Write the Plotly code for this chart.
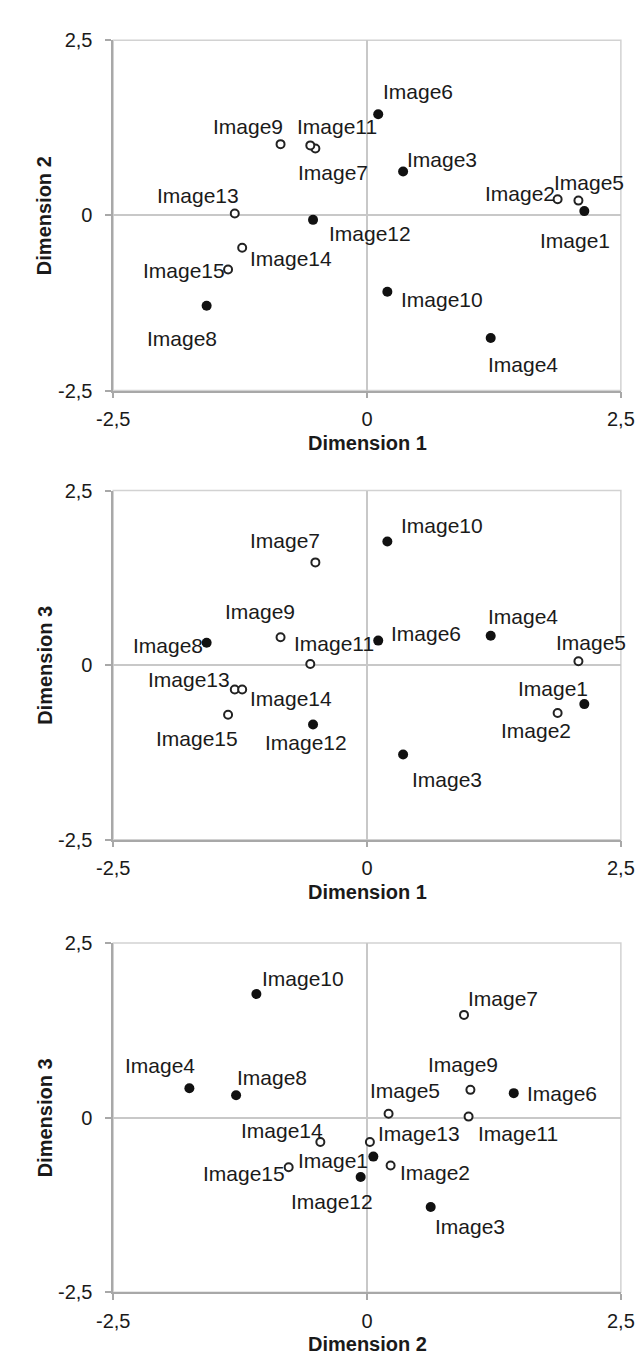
import plotly.graph_objects as go

# ---------------- data ----------------
names = ["Image1", "Image2", "Image3", "Image4", "Image5", "Image6", "Image7", "Image8",
         "Image9", "Image10", "Image11", "Image12", "Image13", "Image14", "Image15"]
dim1 = [2.14, 1.877, 0.355, 1.218, 2.082, 0.11, -0.509, -1.58, -0.852, 0.2, -0.559, -0.532, -1.303, -1.23, -1.369]
dim2 = [0.062, 0.232, 0.627, -1.75, 0.212, 1.445, 0.955, -1.29, 1.018, -1.09, 1.0, -0.063, 0.028, -0.46, -0.772]
dim3 = [-0.558, -0.685, -1.28, 0.42, 0.055, 0.351, 1.471, 0.32, 0.398, 1.77, 0.015, -0.85, -0.35, -0.35, -0.71]
filled = [True, False, True, True, False, True, False, True, False, True, False, True, False, False, False]

tick_vals = [-2.5, 0, 2.5]
tick_text = ["-2,5", "0", "2,5"]

# label offsets (pixels, dx right, dy down) per panel
off1 = [(-9, 29), (-38, -6), (39, -12), (32, 26), (11, -18), (40, -23), (18, 24), (-25, 33),
        (-33, -18), (55, 8), (27, -19), (57, 14), (-37, -18), (49, 11), (-44, 1)]
off2 = [(-31, -16), (-22, 18), (44, 25), (32, -19), (13, -19), (48, -7), (-30, -22), (-39, 3),
        (-21, -26), (55, -16), (24, -21), (-7, 18), (-46, -10), (49, 9), (-31, 24)]
off3 = [(-40, 4), (44, 7), (39, 19), (-29, -23), (16, -23), (48, 0), (39, -16), (36, -18),
        (-7, -25), (47, -16), (49, 17), (-29, 24), (49, -9), (-38, -12), (-45, 6)]

W, H = 644, 1353
FONT = "Liberation Sans, Arial, Helvetica, sans-serif"
FS = 21
FS_AX = 20

panels = [
    dict(x=dim1, y=dim2, xt="Dimension 1", yt="Dimension 2", top=21.7, bot=377.7, off=off1),
    dict(x=dim1, y=dim3, xt="Dimension 1", yt="Dimension 3", top=479.3, bot=834.3, off=off2),
    dict(x=dim2, y=dim3, xt="Dimension 2", yt="Dimension 3", top=939.3, bot=1294.3, off=off3),
]
left, right = 92.7, 626.0

fig = go.Figure()
annotations = []
shapes = []
layout = {}

for i, p in enumerate(panels):
    k = "" if i == 0 else str(i + 1)
    xa, ya = "x" + k, "y" + k
    fx = [v for v, f in zip(p["x"], filled) if f]
    fy = [v for v, f in zip(p["y"], filled) if f]
    ox = [v for v, f in zip(p["x"], filled) if not f]
    oy = [v for v, f in zip(p["y"], filled) if not f]
    fig.add_trace(go.Scatter(x=fx, y=fy, mode="markers", xaxis=xa, yaxis=ya, showlegend=False,
                             marker=dict(size=10, color="#111111", line=dict(width=0))))
    fig.add_trace(go.Scatter(x=ox, y=oy, mode="markers", xaxis=xa, yaxis=ya, showlegend=False,
                             marker=dict(size=8, color="white", line=dict(width=2, color="#222222"))))
    for n, xv, yv, (dx, dy) in zip(names, p["x"], p["y"], p["off"]):
        annotations.append(dict(x=xv, y=yv, xref=xa, yref=ya, text=n, showarrow=False,
                                xanchor="center", yanchor="middle", xshift=dx, yshift=-dy,
                                font=dict(family=FONT, size=FS, color="#1a1a1a")))
    # axis titles
    annotations.append(dict(x=0.5, y=0, xref=xa + " domain", yref=ya + " domain", text="<b>" + p["xt"] + "</b>",
                            showarrow=False, xanchor="center", yanchor="middle", yshift=-52,
                            font=dict(family=FONT, size=FS_AX, color="#1a1a1a")))
    annotations.append(dict(x=20.7 / W, y=0.5, xref="paper", yref=ya + " domain", text="<b>" + p["yt"] + "</b>",
                            showarrow=False, xanchor="center", yanchor="middle", textangle=-90,
                            font=dict(family=FONT, size=FS_AX, color="#1a1a1a")))
    # light border (top / right)
    shapes.append(dict(type="rect", xref=xa + " domain", yref=ya + " domain", x0=0, x1=1, y0=0, y1=1,
                       line=dict(color="#d2d2d2", width=1.5), layer="below"))
    axis_common = dict(range=[-2.5, 2.5], tickvals=tick_vals, ticktext=tick_text, ticks="outside",
                       ticklen=6, tickwidth=1.5, tickcolor="#a8a8a8", showline=True, linecolor="#a8a8a8",
                       linewidth=1.5, showgrid=False, zeroline=True, zerolinecolor="#c8c8c8",
                       zerolinewidth=1.5, fixedrange=True,
                       tickfont=dict(family=FONT, size=FS_AX, color="#1a1a1a"))
    layout["xaxis" + k] = dict(axis_common, domain=[left / W, right / W], anchor=ya, ticklabelstandoff=4)
    layout["yaxis" + k] = dict(axis_common, domain=[1 - p["bot"] / H, 1 - p["top"] / H], anchor=xa,
                               ticklabelstandoff=9)

fig.update_layout(width=W, height=H, margin=dict(l=0, r=0, t=0, b=0), plot_bgcolor="white",
                  paper_bgcolor="white", annotations=annotations, shapes=shapes, **layout)

fig.write_html("out.html")
